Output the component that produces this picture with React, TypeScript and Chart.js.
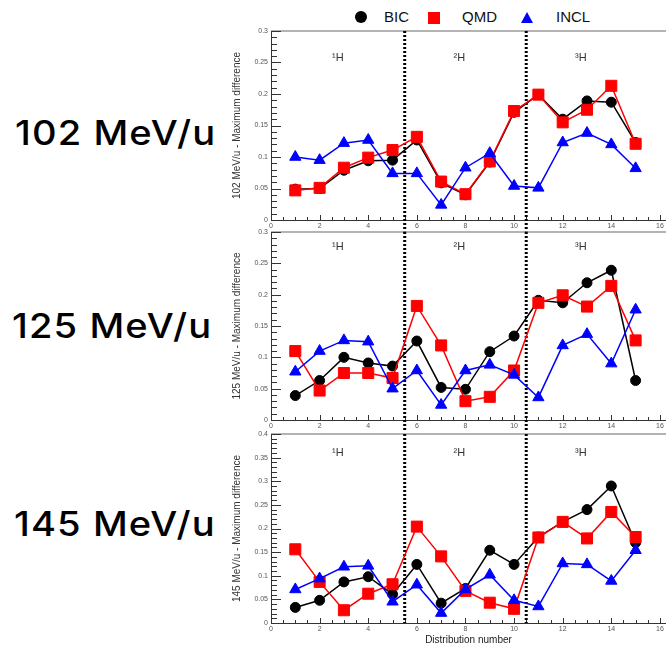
import { useEffect, useRef } from "react";
import { Chart, registerables } from "chart.js";

Chart.register(...registerables);

// Distribution numbers along the x axis
const DIST = [1, 2, 3, 4, 5, 6, 7, 8, 9, 10, 11, 12, 13, 14, 15];

// 102 MeV/u
const BIC_102 = [0.049, 0.05, 0.079, 0.094, 0.095, 0.127, 0.059, 0.04, 0.092, 0.171, 0.199, 0.16, 0.189, 0.187, 0.123];
const QMD_102 = [0.047, 0.051, 0.083, 0.099, 0.111, 0.132, 0.061, 0.041, 0.093, 0.173, 0.199, 0.155, 0.175, 0.213, 0.121];
const INCL_102 = [0.1, 0.095, 0.122, 0.127, 0.074, 0.074, 0.024, 0.083, 0.106, 0.054, 0.051, 0.123, 0.138, 0.12, 0.082];

// 125 MeV/u
const BIC_125 = [0.039, 0.063, 0.1, 0.091, 0.086, 0.126, 0.052, 0.049, 0.109, 0.134, 0.191, 0.187, 0.219, 0.239, 0.063];
const QMD_125 = [0.11, 0.047, 0.075, 0.075, 0.067, 0.182, 0.119, 0.03, 0.037, 0.079, 0.187, 0.199, 0.181, 0.214, 0.127];
const INCL_125 = [0.077, 0.11, 0.127, 0.125, 0.05, 0.079, 0.024, 0.079, 0.088, 0.072, 0.036, 0.119, 0.137, 0.09, 0.176];

// 145 MeV/u
const BIC_145 = [0.033, 0.048, 0.087, 0.098, 0.061, 0.124, 0.042, 0.073, 0.154, 0.124, 0.182, 0.214, 0.24, 0.29, 0.17];
const QMD_145 = [0.156, 0.087, 0.027, 0.062, 0.082, 0.204, 0.141, 0.068, 0.043, 0.03, 0.181, 0.214, 0.179, 0.235, 0.182];
const INCL_145 = [0.071, 0.094, 0.119, 0.121, 0.045, 0.081, 0.021, 0.071, 0.102, 0.048, 0.035, 0.126, 0.124, 0.089, 0.154];

// Isotope groups: separator positions and group labels
const SEPARATORS = [5.5, 10.5];
const ISOTOPES = ["¹H", "²H", "³H"];
const ISOTOPE_X = [2.75, 7.75, 12.75];

const X_TICKS = [0, 2, 4, 6, 8, 10, 12, 14, 16];
const X_MAX = 16.25;

type Panel = {
  energy: string;
  yMax: number;
  bic: number[];
  qmd: number[];
  incl: number[];
  top: number;
  bottom: number;
  labelOffset: number;
  xTitle: boolean;
  tagTop: number;
  tagLeft: number;
};

const PANELS: Panel[] = [
  { energy: "102 MeV/u", yMax: 0.3, bic: BIC_102, qmd: QMD_102, incl: INCL_102, top: 31, bottom: 220, labelOffset: 27, xTitle: false, tagTop: 113, tagLeft: 15 },
  { energy: "125 MeV/u", yMax: 0.3, bic: BIC_125, qmd: QMD_125, incl: INCL_125, top: 232, bottom: 420, labelOffset: 15, xTitle: false, tagTop: 306, tagLeft: 12 },
  { energy: "145 MeV/u", yMax: 0.4, bic: BIC_145, qmd: QMD_145, incl: INCL_145, top: 434, bottom: 623, labelOffset: 19, xTitle: true, tagTop: 504, tagLeft: 14 },
];

const CANVAS_LEFT = 230;
const CANVAS_WIDTH = 436;
const PAD_TOP = 12;
const AXIS_WIDTH = 41;
const SANS = "'Liberation Sans', Arial, Helvetica, sans-serif";

function series(label: string, values: number[], color: string, style: string, radius: number, order: number) {
  return {
    label,
    data: DIST.map((x, i) => ({ x, y: values[i] })),
    borderColor: color,
    backgroundColor: color,
    borderWidth: 1.5,
    pointStyle: style,
    pointRadius: radius,
    pointBackgroundColor: color,
    pointBorderColor: color,
    pointBorderWidth: 1,
    tension: 0,
    order,
    clip: false as const,
  };
}

function framePlugin(panel: Panel) {
  return {
    id: "frame",
    beforeDatasetsDraw(chart: any) {
      const { ctx, chartArea: a, scales } = chart;
      const x = scales.x;
      const y = scales.y;
      ctx.save();

      // top border
      ctx.strokeStyle = "#9a9a9a";
      ctx.lineWidth = 1.5;
      ctx.beginPath();
      ctx.moveTo(a.left, a.top);
      ctx.lineTo(a.right, a.top);
      ctx.stroke();

      // inward tick marks
      ctx.strokeStyle = "#333";
      ctx.lineWidth = 1;
      ctx.beginPath();
      for (let k = 0; k <= 32; k++) {
        const v = k * 0.5;
        const px = Math.round(x.getPixelForValue(v)) + 0.5;
        const len = k % 4 === 0 ? 5 : 3;
        ctx.moveTo(px, a.bottom);
        ctx.lineTo(px, a.bottom - len);
      }
      const nMinor = Math.round(panel.yMax / 0.01);
      for (let k = 0; k <= nMinor; k++) {
        const v = k * 0.01;
        const py = Math.round(y.getPixelForValue(v)) + 0.5;
        const len = k % 5 === 0 ? 10 : 6;
        ctx.moveTo(a.left, py);
        ctx.lineTo(a.left + len, py);
      }
      ctx.stroke();

      // dotted separators between isotope groups
      ctx.strokeStyle = "#000";
      ctx.lineWidth = 3;
      ctx.setLineDash([2, 2]);
      ctx.beginPath();
      const extra = panel.xTitle ? 0 : 12;
      SEPARATORS.forEach((s) => {
        const px = x.getPixelForValue(s);
        ctx.moveTo(px, a.top);
        ctx.lineTo(px, a.bottom + extra);
      });
      ctx.stroke();
      ctx.setLineDash([]);

      // isotope labels
      ctx.fillStyle = "#333";
      ctx.font = `11px ${SANS}`;
      ctx.textAlign = "center";
      ctx.textBaseline = "middle";
      ISOTOPES.forEach((t, i) => {
        ctx.fillText(t, x.getPixelForValue(ISOTOPE_X[i]), a.top + panel.labelOffset);
      });
      ctx.restore();
    },
  };
}

function PanelChart({ panel }: { panel: Panel }) {
  const ref = useRef<HTMLCanvasElement>(null);
  const plotH = panel.bottom - panel.top;
  const below = panel.xTitle ? 649 - panel.bottom : 14;
  const height = PAD_TOP + plotH + below;

  useEffect(() => {
    const chart = new Chart(ref.current as HTMLCanvasElement, {
      type: "line",
      data: {
        datasets: [
          series("INCL", panel.incl, "#0000ff", "triangle", 6.5, 0),
          series("QMD", panel.qmd, "#ff0000", "rect", 7.8, 1),
          series("BIC", panel.bic, "#000000", "circle", 5, 2),
        ] as any,
      },
      options: {
        responsive: false,
        animation: false,
        events: [],
        layout: { autoPadding: false, padding: { top: PAD_TOP, left: 0, right: 0, bottom: 0 } },
        plugins: { legend: { display: false }, tooltip: { enabled: false } },
        scales: {
          x: {
            type: "linear",
            min: 0,
            max: X_MAX,
            afterFit: (s: any) => {
              s.height = below;
              s.paddingLeft = 0;
              s.paddingRight = 0;
            },
            afterBuildTicks: (s: any) => {
              s.ticks = X_TICKS.map((v) => ({ value: v }));
            },
            grid: { display: false, drawTicks: false },
            border: { display: true, color: "#333", width: 1 },
            ticks: {
              autoSkip: false,
              maxRotation: 0,
              padding: 2,
              color: "#555",
              font: { size: 7, family: SANS },
            },
            title: {
              display: panel.xTitle,
              text: "Distribution number",
              color: "#222",
              font: { size: 10, family: SANS },
              padding: { top: 0, bottom: 3 },
            },
          },
          y: {
            type: "linear",
            min: 0,
            max: panel.yMax,
            afterFit: (s: any) => {
              s.width = AXIS_WIDTH;
              s.paddingTop = 0;
              s.paddingBottom = 0;
            },
            afterBuildTicks: (s: any) => {
              const n = Math.round(panel.yMax / 0.05);
              s.ticks = Array.from({ length: n + 1 }, (_, k) => ({ value: k * 0.05 }));
            },
            grid: { display: false, drawTicks: false },
            border: { display: true, color: "#333", width: 1 },
            ticks: {
              autoSkip: false,
              padding: 3,
              color: "#555",
              font: { size: 7, family: SANS },
              callback: (v: any) => String(Number(Number(v).toFixed(2))),
            },
            title: {
              display: true,
              text: `${panel.energy} - Maximum difference`,
              color: "#333",
              font: { size: 10, family: SANS },
              padding: { top: 1, bottom: 0 },
            },
          },
        },
      },
      plugins: [framePlugin(panel)],
    });
    return () => chart.destroy();
  }, []);

  return (
    <canvas
      ref={ref}
      width={CANVAS_WIDTH}
      height={height}
      style={{ position: "absolute", left: CANVAS_LEFT, top: panel.top - PAD_TOP, width: CANVAS_WIDTH, height }}
    />
  );
}

function Legend() {
  const text: React.CSSProperties = {
    position: "absolute",
    top: 8,
    fontFamily: SANS,
    fontSize: 15,
    lineHeight: "18px",
    color: "#111",
  };
  return (
    <>
      <div style={{ position: "absolute", left: 355, top: 11, width: 12, height: 12, borderRadius: "50%", background: "#000" }} />
      <div style={{ ...text, left: 384 }}>BIC</div>
      <div style={{ position: "absolute", left: 428, top: 12, width: 12, height: 12, background: "#ff0000" }} />
      <div style={{ ...text, left: 462 }}>QMD</div>
      <div
        style={{
          position: "absolute",
          left: 521,
          top: 12,
          width: 0,
          height: 0,
          borderLeft: "6px solid transparent",
          borderRight: "6px solid transparent",
          borderBottom: "11px solid #0000ff",
        }}
      />
      <div style={{ ...text, left: 556 }}>INCL</div>
    </>
  );
}

export default function App() {
  return (
    <div style={{ position: "absolute", left: 0, top: 0, width: 666, height: 649, background: "#fff", overflow: "hidden" }}>
      <Legend />
      {PANELS.map((p) => (
        <div
          key={p.energy + "-tag"}
          style={{
            position: "absolute",
            left: p.tagLeft,
            top: p.tagTop,
            fontFamily: "Inter, 'Noto Sans', sans-serif",
            fontWeight: 500,
            fontSize: 34,
            lineHeight: "40px",
            letterSpacing: 1,
            color: "#000",
            whiteSpace: "nowrap",
            transform: "scaleX(1.12)",
            transformOrigin: "left center",
          }}
        >
          {p.energy}
        </div>
      ))}
      {PANELS.map((p) => (
        <PanelChart key={p.energy} panel={p} />
      ))}
    </div>
  );
}
